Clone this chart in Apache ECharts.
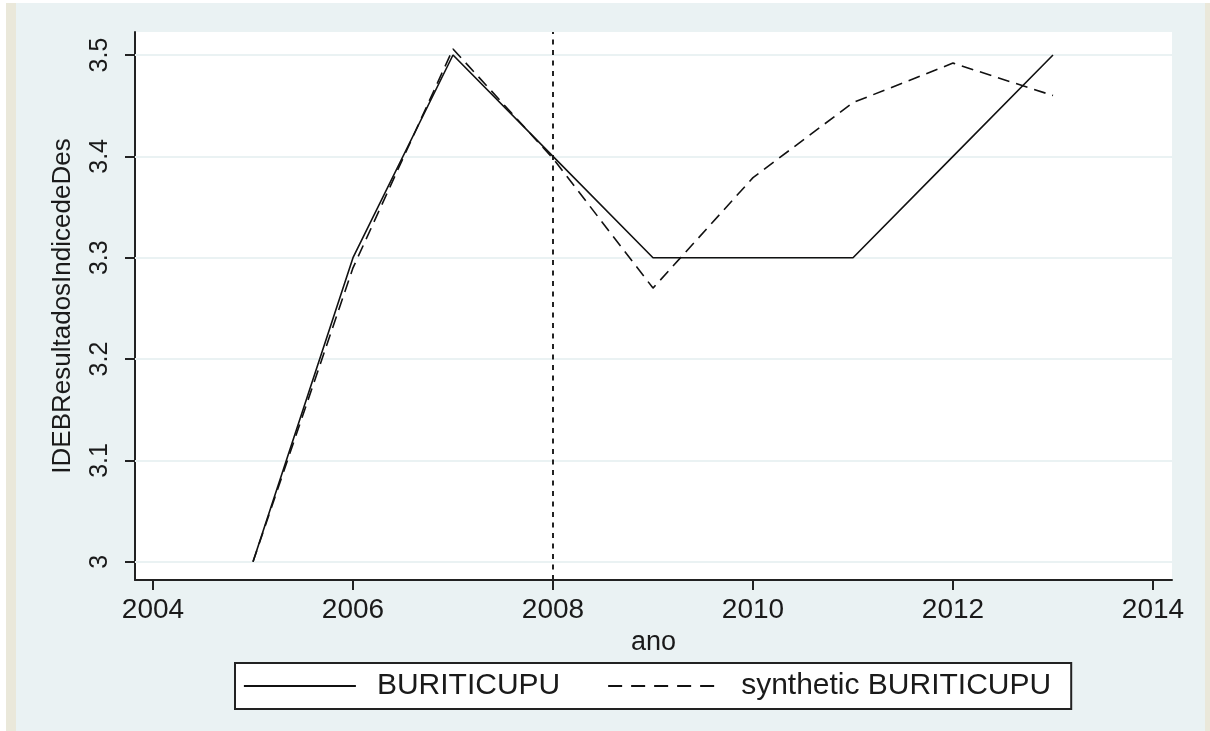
<!DOCTYPE html>
<html>
<head>
<meta charset="utf-8">
<script src="https://cdn.jsdelivr.net/npm/echarts@6/dist/echarts.min.js"></script>
<style>
html,body{margin:0;padding:0;background:#fff;}
#c{width:1210px;height:731px;}
</style>
</head>
<body>
<div id="c"></div>
<script>
const years = [2005, 2006, 2007, 2008, 2009, 2010, 2011, 2012, 2013];
const buriticupu = [3.0, 3.3, 3.5, 3.4, 3.3, 3.3, 3.3, 3.4, 3.5];
const synthetic = [3.0, 3.29, 3.506, 3.398, 3.270, 3.379, 3.453, 3.492, 3.460];
const xTicks = [2004, 2006, 2008, 2010, 2012, 2014];
const yTicks = [3.0, 3.1, 3.2, 3.3, 3.4, 3.5];
const yTickLabels = ['3', '3.1', '3.2', '3.3', '3.4', '3.5'];
const treatmentYear = 2008;

const FONT = '"Liberation Sans", Arial, sans-serif';
const chart = echarts.init(document.getElementById('c'), null, {renderer: 'canvas'});

const gridLines = yTicks.map(v => ({yAxis: v}));

const option = {
  backgroundColor: '#EAF2F3',
  animation: false,
  graphic: [
    {type: 'rect', shape: {x: 0, y: 0, width: 1210, height: 3}, style: {fill: '#ffffff'}, silent: true, z: -10},
    {type: 'rect', shape: {x: 0, y: 0, width: 6, height: 731}, style: {fill: '#ffffff'}, silent: true, z: -10},
    {type: 'rect', shape: {x: 6, y: 3, width: 10, height: 728}, style: {fill: '#EAE8DA'}, silent: true, z: -10},
    {type: 'rect', shape: {x: 1205, y: 3, width: 5, height: 728}, style: {fill: '#EAE8DA'}, silent: true, z: -10}
  ],
  grid: {
    left: 135, right: 38, top: 32, bottom: 151,
    show: true, backgroundColor: '#ffffff', borderWidth: 0
  },
  xAxis: {
    type: 'value',
    min: 2003.82, max: 2014.19,
    name: 'ano', nameLocation: 'middle', nameGap: 34,
    nameTextStyle: {fontFamily: FONT, fontSize: 27, color: '#1a1a1a'},
    axisLine: {show: true, onZero: false, lineStyle: {color: '#222', width: 2}},
    axisTick: {show: true, inside: false, length: 10, lineStyle: {color: '#222', width: 2}, customValues: xTicks},
    axisLabel: {show: true, margin: 16, fontFamily: FONT, fontSize: 28, color: '#1a1a1a', customValues: xTicks,
      formatter: v => String(v)},
    splitLine: {show: false}
  },
  yAxis: {
    type: 'value',
    min: 2.982, max: 3.5227,
    name: 'IDEBResultadosIndicedeDes', nameLocation: 'middle', nameRotate: 90, nameGap: 59,
    nameTextStyle: {fontFamily: FONT, fontSize: 26, color: '#1a1a1a'},
    axisLine: {show: true, onZero: false, lineStyle: {color: '#222', width: 2}},
    axisTick: {show: true, inside: false, length: 10, lineStyle: {color: '#222', width: 2}, customValues: yTicks},
    axisLabel: {show: true, rotate: 90, margin: 22, fontFamily: FONT, fontSize: 25, color: '#1a1a1a', customValues: yTicks,
      formatter: v => yTickLabels[yTicks.findIndex(t => Math.abs(t - v) < 1e-6)] ?? String(v)},
    splitLine: {show: false}
  },
  legend: {
    show: true,
    left: 235, top: 663,
    orient: 'horizontal',
    backgroundColor: '#ffffff',
    borderColor: '#222', borderWidth: 2, borderRadius: 0,
    padding: [8, 20, 8, 8],
    itemWidth: 112, itemHeight: 14, itemGap: 47,
    itemStyle: {opacity: 0, color: 'transparent', borderWidth: 0},
    textStyle: {fontFamily: FONT, fontSize: 30, color: '#1a1a1a', padding: [0, 0, 0, 16]},
    data: [
      {name: 'BURITICUPU', lineStyle: {color: '#111', width: 1.8, type: 'solid'}},
      {name: 'synthetic BURITICUPU', lineStyle: {color: '#111', width: 1.8, type: [14, 9]}}
    ]
  },
  series: [
    {
      name: 'gridlines', type: 'line', data: [], silent: true,
      markLine: {silent: true, symbol: 'none', label: {show: false},
        lineStyle: {color: '#EAF2F3', width: 2, type: 'solid'}, data: gridLines}, z: 1
    },
    {
      name: 'BURITICUPU', type: 'line',
      data: years.map((y, i) => [y, buriticupu[i]]),
      symbol: 'none', lineStyle: {color: '#111', width: 1.6, type: 'solid'}, z: 5,
      markLine: {silent: true, symbol: 'none', label: {show: false},
        lineStyle: {color: '#222', width: 2, type: [5, 5.5]}, data: [{xAxis: treatmentYear}]}
    },
    {
      name: 'synthetic BURITICUPU', type: 'line',
      data: years.map((y, i) => [y, synthetic[i]]),
      symbol: 'none', lineStyle: {color: '#111', width: 1.6, type: [12, 7]}, z: 5
    }
  ]
};
chart.setOption(option);
</script>
</body>
</html>
